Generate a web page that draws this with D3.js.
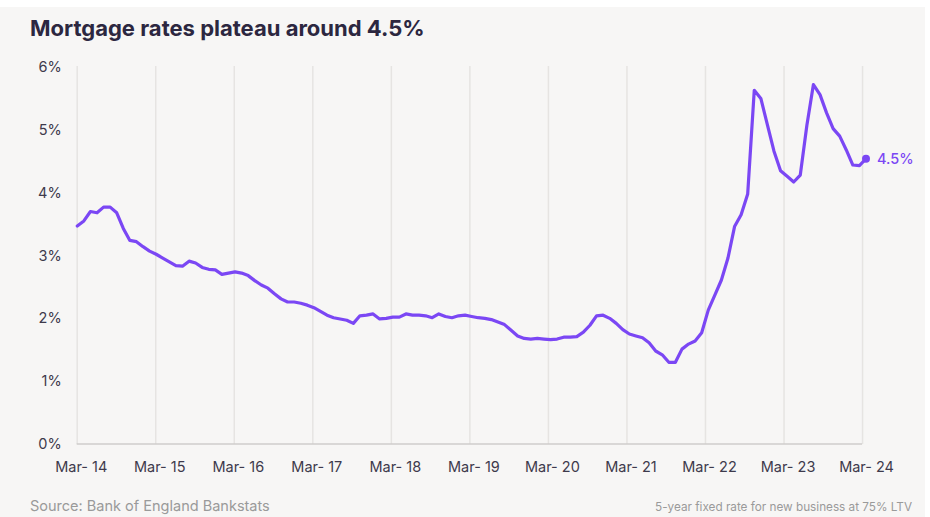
<!DOCTYPE html>
<html>
<head>
<meta charset="utf-8">
<script src="https://cdn.jsdelivr.net/npm/d3@7"></script>
<style>
  html, body { margin: 0; padding: 0; background: #ffffff; }
  svg { display: block; }
</style>
</head>
<body>
<svg id="chart" width="930" height="517"></svg>
<script>
// ---- Data (monthly, Mar-14 .. Mar-24) ----
const startMonth = "2014-03";
const rates = [
  3.47, 3.55, 3.70, 3.68, 3.77, 3.77, 3.68, 3.43, 3.24, 3.22, 3.14, 3.07,
  3.02, 2.96, 2.90, 2.84, 2.83, 2.91, 2.88, 2.81, 2.78, 2.77, 2.70, 2.72,
  2.74, 2.72, 2.68, 2.60, 2.53, 2.48, 2.39, 2.31, 2.26, 2.26, 2.24, 2.21,
  2.17, 2.11, 2.05, 2.01, 1.99, 1.97, 1.92, 2.04, 2.05, 2.07, 1.99, 2.00,
  2.02, 2.02, 2.07, 2.05, 2.05, 2.04, 2.01, 2.07, 2.03, 2.01, 2.04, 2.05,
  2.03, 2.01, 2.00, 1.98, 1.94, 1.90, 1.81, 1.72, 1.68, 1.67, 1.68, 1.67,
  1.66, 1.67, 1.70, 1.70, 1.71, 1.78, 1.89, 2.04, 2.05, 2.00, 1.92, 1.82,
  1.75, 1.72, 1.69, 1.61, 1.48, 1.42, 1.30, 1.30, 1.51, 1.59, 1.64, 1.77,
  2.13, 2.37, 2.61, 2.96, 3.46, 3.65, 3.98, 5.63, 5.50, 5.08, 4.66, 4.35,
  4.26, 4.17, 4.28, 5.07, 5.72, 5.56, 5.27, 5.02, 4.90, 4.68, 4.44, 4.43,
  4.54
];
const xTickIndex = [0, 12, 24, 36, 48, 60, 72, 84, 96, 108, 120];
const xTickLabels = ["Mar- 14", "Mar- 15", "Mar- 16", "Mar- 17", "Mar- 18", "Mar- 19",
                     "Mar- 20", "Mar- 21", "Mar- 22", "Mar- 23", "Mar- 24"];
const yTicks = [0, 1, 2, 3, 4, 5, 6];
const endLabel = "4.5%";
const titleText = "Mortgage rates plateau around 4.5%";
const sourceText = "Source: Bank of England Bankstats";
const noteText = "5-year fixed rate for new business at 75% LTV";

// ---- Styles ----
const bg = "#f7f6f5";
const purple = "#7b47f4";
const dark = "#2c2740";
const tickColor = "#3e3a4c";
const gridColor = "#e6e4e2";
const footColor = "#9a9a9a";
const fontFamily = "Inter, 'Noto Sans', sans-serif";

// scale font size so that a text spans a target width
function fitWidth(sel, target) {
  const node = sel.node();
  const fs = parseFloat(sel.attr("font-size"));
  const w = node.getComputedTextLength();
  if (w > 0) sel.attr("font-size", (fs * target / w).toFixed(2));
  return sel;
}

const svg = d3.select("#chart");
svg.append("rect").attr("x", 0).attr("y", 7).attr("width", 925).attr("height", 510).attr("fill", bg);

const xPt = d3.scaleLinear().domain([0, rates.length - 1]).range([77.3, 866]);
const xAx = d3.scaleLinear().domain([0, rates.length]).range([76.7, 868.6]);
const y = d3.scaleLinear().domain([0, 6]).range([444, 67]);

// gridlines + x labels
const gx = svg.append("g").attr("transform", "translate(0,444)")
  .call(d3.axisBottom(xAx).tickValues(xTickIndex)
    .tickFormat((d, i) => xTickLabels[i])
    .tickSize(-(444 - 66)).tickPadding(18));
gx.select(".domain").remove();
gx.selectAll(".tick line").attr("stroke", gridColor).attr("stroke-width", 1.5);
gx.selectAll(".tick text").attr("fill", tickColor).attr("font-family", fontFamily)
  .attr("font-size", 14.5).attr("dx", 4);

// baseline
svg.append("line").attr("x1", xAx(0)).attr("x2", xAx(120)).attr("y1", y(0)).attr("y2", y(0))
  .attr("stroke", "#cfcdcb").attr("stroke-width", 1.5);

// y axis labels
const gy = svg.append("g").attr("transform", `translate(${xAx(0)},0)`)
  .call(d3.axisLeft(y).tickValues(yTicks).tickFormat(d => d + "%").tickSize(0).tickPadding(15));
gy.select(".domain").remove();
gy.selectAll(".tick text").attr("fill", tickColor).attr("font-family", fontFamily).attr("font-size", 14.5);

// line
const line = d3.line().x((d, i) => xPt(i)).y(d => y(d)).curve(d3.curveLinear);
svg.append("path").datum(rates).attr("d", line)
  .attr("fill", "none").attr("stroke", purple).attr("stroke-width", 3.2)
  .attr("stroke-linejoin", "round").attr("stroke-linecap", "round");

// end dot + label
const last = rates.length - 1;
svg.append("circle").attr("cx", xPt(last)).attr("cy", y(rates[last])).attr("r", 4).attr("fill", purple);
svg.append("text").attr("x", xPt(last) + 11).attr("y", y(rates[last]) + 5)
  .attr("fill", purple).attr("font-family", fontFamily).attr("font-size", 14.5).attr("font-weight", 500)
  .text(endLabel);

// title
fitWidth(svg.append("text").attr("x", 30).attr("y", 36)
  .attr("fill", dark).attr("font-family", fontFamily).attr("font-size", 20.5).attr("font-weight", 700)
  .text(titleText), 395);

// footer
fitWidth(svg.append("text").attr("x", 30).attr("y", 511)
  .attr("fill", footColor).attr("font-family", fontFamily).attr("font-size", 13.5)
  .text(sourceText), 240);
fitWidth(svg.append("text").attr("x", 912).attr("y", 511).attr("text-anchor", "end")
  .attr("fill", footColor).attr("font-family", fontFamily).attr("font-size", 13.5)
  .text(noteText), 257);
</script>
</body>
</html>
